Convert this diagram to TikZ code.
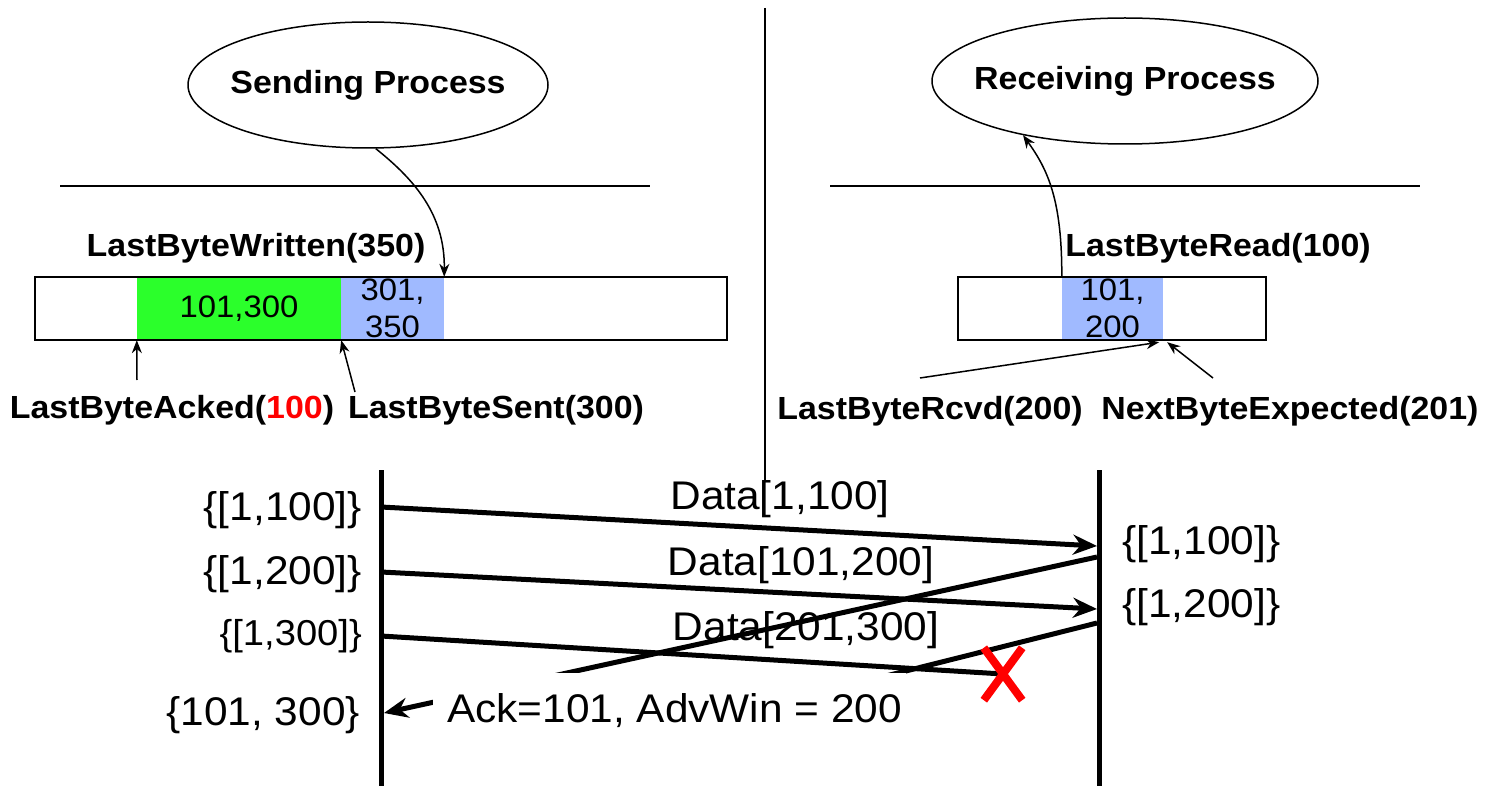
\documentclass[tikz,border=0pt]{standalone}
\usepackage{fontspec}
\setmainfont[FakeStretch=1.06]{Liberation Sans}
\usetikzlibrary{arrows.meta,shapes.geometric}
\definecolor{bufgreen}{RGB}{43,255,43}
\definecolor{bufblue}{RGB}{160,186,255}
\begin{document}
\begin{tikzpicture}[x=1pt,y=-1pt,
 thinln/.style={line width=1.5pt},
 fatln/.style={line width=5pt},
 sarr/.style={thinln,-{Stealth[length=13pt,width=10pt]}},
 farr/.style={fatln,-{Stealth[length=24pt,width=20pt]}},
 lbl/.style={font=\fontsize{32}{38}\selectfont\bfseries, inner sep=0pt},
 num/.style={font=\fontsize{31}{37}\selectfont, inner sep=0pt},
 big/.style={font=\fontsize{40}{46}\selectfont, inner sep=0pt},
 mid/.style={font=\fontsize{36}{42}\selectfont, inner sep=0pt},
 proc/.style={ellipse, draw, thinln, inner xsep=-18pt, inner ysep=0pt, font=\fontsize{32}{38}\selectfont\bfseries},
 buf/.style={draw, thinln, minimum height=63pt, inner sep=0pt},
 seg/.style={minimum height=63pt, inner sep=0pt},
]
\useasboundingbox (0,0) rectangle (1486,786);

% processes
\node[proc, minimum width=360pt, minimum height=126pt] (send) at (368,85) {Sending Process};
\node[proc, minimum width=386pt, minimum height=126pt] (recv) at (1125,81) {Receiving Process};

% separators
\coordinate (hl1) at (60,186); \coordinate (hl2) at (650,186);
\coordinate (hr1) at (830,186); \coordinate (hr2) at (1420,186);
\draw[thinln] (hl1) -- (hl2);
\draw[thinln] (hr1) -- (hr2);
\coordinate (dv1) at (765,8); \coordinate (dv2) at (765,482);
\draw[thinln] (dv1) -- (dv2);

% sender buffer
\node[seg, num, fill=bufgreen, minimum width=204pt] (sgreen) at (239,308.5) {101,300};
\node[seg, num, fill=bufblue, minimum width=103pt, align=center] (sblue) at (392.5,308.5) {301,\\350};
\node[buf, minimum width=692pt] (sbuf) at (381,308.5) {};

% receiver buffer
\node[seg, num, fill=bufblue, minimum width=101pt, align=center] (rblue) at (1112.5,308.5) {101,\\200};
\node[buf, minimum width=308pt] (rbuf) at (1112,308.5) {};

% pointer labels
\node[lbl, anchor=base] (lbw) at (256,257) {LastByteWritten(350)};
\node[lbl, anchor=base] (lba) at (172,418) {LastByteAcked(\textcolor{red}{100})};
\node[lbl, anchor=base] (lbs) at (496,418) {LastByteSent(300)};
\node[lbl, anchor=base] (lbr) at (1218,257) {LastByteRead(100)};
\node[lbl, anchor=base] (lbrc) at (930,419) {LastByteRcvd(200)};
\node[lbl, anchor=base] (nbe) at (1290,419) {NextByteExpected(201)};

% pointer arrows
\coordinate (aAck) at (137,380);
\coordinate (aSent) at (355,392);
\coordinate (aRcvd) at (920,378);
\coordinate (aNext) at (1213,378);
\draw[sarr] (aAck) -- (sgreen.south west);
\draw[sarr] (aSent) -- (sgreen.south east);
\draw[sarr] (aRcvd) -- ([xshift=-4pt,yshift=-2pt]rblue.south east);
\draw[sarr] (aNext) -- ([xshift=4pt,yshift=-2pt]rblue.south east);
\draw[sarr] (send.277) .. controls (415,180) and (445,215) .. (sblue.north east);
\draw[sarr] (rblue.north west) .. controls (1062,200) and (1048,170) .. (recv.208);

% timelines
\coordinate (L0) at (381,470); \coordinate (L1) at (381,786);
\coordinate (R0) at (1099,470); \coordinate (R1) at (1099,786);
\draw[fatln] (L0) -- (L1);
\draw[fatln] (R0) -- (R1);

\coordinate (s1) at (381,507); \coordinate (r1) at (1097,546);
\coordinate (s2) at (381,572); \coordinate (r2) at (1097,609);
\coordinate (s3) at (381,636);
\coordinate (ra1) at (1097,557); \coordinate (la1) at (384,713);
\coordinate (ra2) at (1097,623); \coordinate (ea2) at (870,680);

% acks (partly hidden by label)
\draw[farr] (ra1) -- (la1);
\draw[fatln] (ra2) -- (ea2);
\node[big, fill=white, inner xsep=4pt, inner ysep=22pt, text height=27pt, text depth=8pt, anchor=base] (ack) at (669.5,722) {\hspace*{10pt}Ack=101, AdvWin = 200};

% data
\node[minimum width=38pt, minimum height=52pt, inner sep=0pt] (lost) at (1003,674) {};
\draw[farr] (s1) -- (r1);
\draw[farr] (s2) -- (r2);
\draw[fatln] (s3) -- (lost.center);
\draw[line width=8pt, red] (lost.north west) -- (lost.south east) (lost.north east) -- (lost.south west);

\node[big, anchor=base] (d1) at (780,509) {Data[1,100]};
\node[big, anchor=base] (d2) at (801,575) {Data[101,200]};
\node[big, anchor=base] (d3) at (806,640) {Data[201,300]};

\node[big, anchor=base east] (sl1) at (362,520) {\{[1,100]\}};
\node[big, anchor=base east] (sl2) at (362,584) {\{[1,200]\}};
\node[mid, anchor=base east] (sl3) at (362,645) {\{[1,300]\}};
\node[big, anchor=base east] (sl4) at (360,725) {\{101, 300\}};
\node[big, anchor=base west] (rl1) at (1122,554) {\{[1,100]\}};
\node[big, anchor=base west] (rl2) at (1122,617) {\{[1,200]\}};
\end{tikzpicture}
\end{document}
